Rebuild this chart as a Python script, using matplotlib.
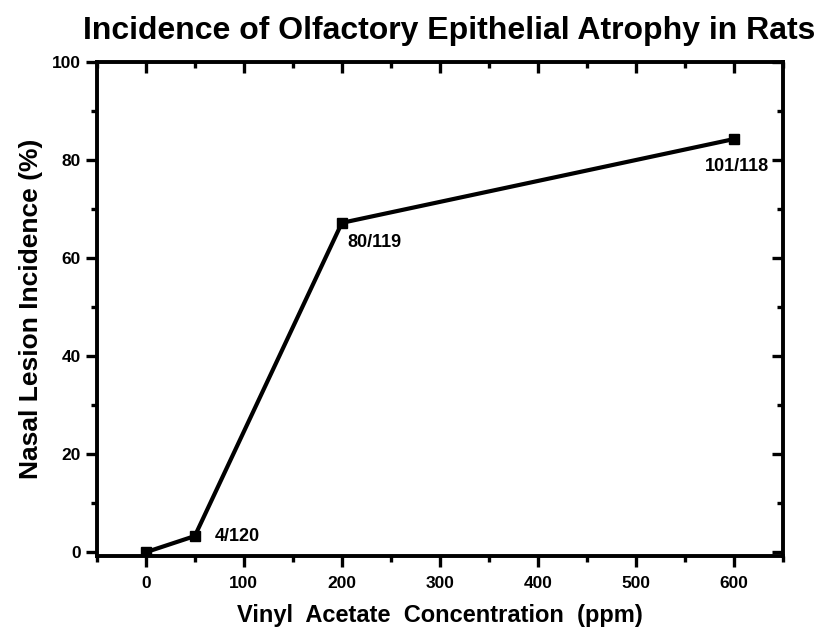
import matplotlib
matplotlib.use("Agg")
import matplotlib.pyplot as plt
from matplotlib.ticker import MultipleLocator

plt.rcParams['font.family'] = ['Liberation Sans', 'DejaVu Sans']
plt.rcParams['font.weight'] = 'bold'

# data
conc = [0, 50, 200, 600]
incidence = [0, 3.3, 67.2, 84.3]
counts = ["", "4/120", "80/119", "101/118"]

fig = plt.figure(figsize=(8.2, 6.27), dpi=100)
ax = fig.add_axes([0.118, 0.113, 0.837, 0.788])

ax.plot(conc, incidence, color='black', lw=3, marker='s', ms=7, zorder=3)

# count labels next to the points
ax.annotate(counts[1], (conc[1], incidence[1]), xytext=(14, 0),
            textcoords='offset points', ha='left', va='center', fontsize=13, fontweight='bold')
ax.annotate(counts[2], (conc[2], incidence[2]), xytext=(4, -14),
            textcoords='offset points', ha='left', va='center', fontsize=13, fontweight='bold')
ax.annotate(counts[3], (conc[3], incidence[3]), xytext=(2, -20),
            textcoords='offset points', ha='center', va='center', fontsize=13, fontweight='bold')

ax.set_xlim(-50, 650)
ax.set_ylim(-0.8, 100)
ax.xaxis.set_major_locator(MultipleLocator(100))
ax.xaxis.set_minor_locator(MultipleLocator(50))
ax.yaxis.set_major_locator(MultipleLocator(20))
ax.yaxis.set_minor_locator(MultipleLocator(10))
ax.set_xticks(range(0, 601, 100))

for s in ax.spines.values():
    s.set_linewidth(2.8)

ax.tick_params(which='both', direction='out', width=2.4, labelsize=12.5)
ax.tick_params(which='major', length=8)
ax.tick_params(which='minor', length=4.5)
ax.tick_params(axis='x', pad=6)

# inward ticks on top and right
ax2 = ax.twinx()
ax2.set_ylim(ax.get_ylim())
ax2.yaxis.set_major_locator(MultipleLocator(20))
ax2.yaxis.set_minor_locator(MultipleLocator(10))
ax2.tick_params(which='both', direction='in', width=2.4, labelright=False)
ax2.tick_params(which='major', length=8)
ax2.tick_params(which='minor', length=4.5)
ax3 = ax.twiny()
ax3.set_xlim(ax.get_xlim())
ax3.xaxis.set_major_locator(MultipleLocator(100))
ax3.xaxis.set_minor_locator(MultipleLocator(50))
ax3.tick_params(which='both', direction='in', width=2.4, labeltop=False)
ax3.tick_params(which='major', length=8)
ax3.tick_params(which='minor', length=4.5)

ax.set_xlabel("Vinyl  Acetate  Concentration  (ppm)", fontsize=17, fontweight='bold', labelpad=10)
ax.set_ylabel("Nasal Lesion Incidence (%)", fontsize=19, fontweight='bold', labelpad=6)
fig.text(0.548, 0.95, "Incidence of Olfactory Epithelial Atrophy in Rats",
         ha='center', va='center', fontsize=23, fontweight='bold')

fig.savefig('out.png', dpi=100)
